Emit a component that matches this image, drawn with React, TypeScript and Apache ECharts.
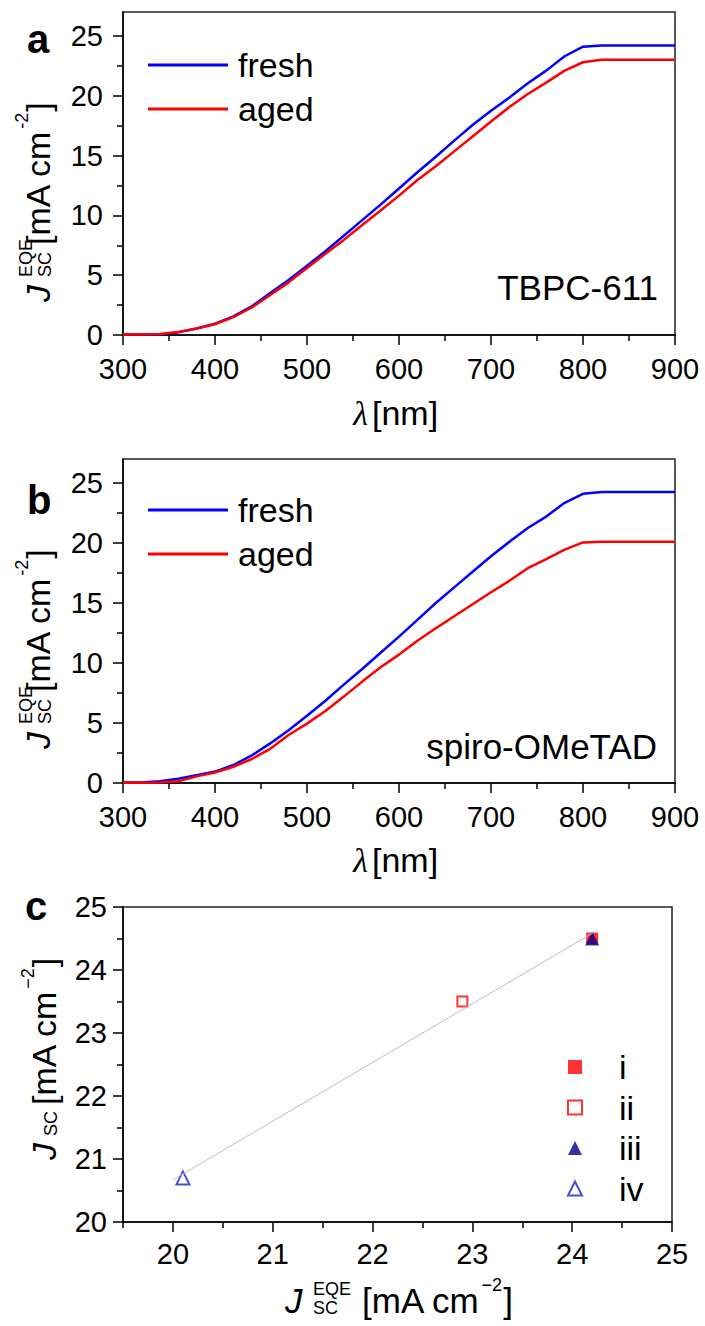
import React, { useEffect, useRef } from "react";
import * as echarts from "echarts";

// ---------------- data ----------------
const wavelengths = [300, 320, 340, 360, 380, 400, 420, 440, 460, 480, 500, 520, 540, 560, 580, 600, 620, 640, 660, 680, 700, 720, 740, 760, 780, 800, 820, 840, 860, 880, 900];
// panel a: TBPC-611
const freshA = [0.05, 0.05, 0.05, 0.22, 0.55, 0.95, 1.55, 2.4, 3.5, 4.6, 5.8, 7.0, 8.3, 9.6, 10.9, 12.25, 13.6, 14.9, 16.25, 17.55, 18.75, 19.85, 21.05, 22.1, 23.3, 24.1, 24.2, 24.2, 24.2, 24.2, 24.2];
const agedA = [0.05, 0.05, 0.08, 0.25, 0.55, 0.9, 1.5, 2.3, 3.35, 4.4, 5.6, 6.8, 7.95, 9.2, 10.4, 11.65, 12.95, 14.1, 15.35, 16.6, 17.85, 19.05, 20.15, 21.1, 22.1, 22.8, 23.0, 23.0, 23.0, 23.0, 23.0];
// panel b: spiro-OMeTAD
const freshB = [0.05, 0.05, 0.15, 0.35, 0.65, 0.95, 1.5, 2.3, 3.3, 4.4, 5.6, 6.85, 8.2, 9.5, 10.85, 12.2, 13.6, 15.0, 16.3, 17.6, 18.9, 20.1, 21.25, 22.2, 23.35, 24.1, 24.25, 24.25, 24.25, 24.25, 24.25];
const agedB = [0.03, 0.03, 0.05, 0.15, 0.55, 0.87, 1.35, 2.0, 2.85, 4.0, 4.95, 6.0, 7.2, 8.45, 9.65, 10.7, 11.85, 12.9, 13.9, 14.9, 15.9, 16.85, 17.9, 18.65, 19.45, 20.05, 20.1, 20.1, 20.1, 20.1, 20.1];
// panel c
const cNames = ["i", "ii", "iii", "iv"];
const cJeqe = [24.2, 22.9, 24.2, 20.1];
const cJsc = [24.5, 23.5, 24.5, 20.7];
const fitJeqe = [20.0, 24.22];
const fitJsc = [20.67, 24.6];

// ticks
const specTicks = [300, 400, 500, 600, 700, 800, 900];
const specMinorTicks = [350, 450, 550, 650, 750, 850];
const jTicks = [0, 5, 10, 15, 20, 25];
const jMinorTicks = [2.5, 7.5, 12.5, 17.5, 22.5];
const cXTicks = [20, 21, 22, 23, 24, 25];
const cXMinorTicks = [19.5, 20.5, 21.5, 22.5, 23.5, 24.5];
const cYTicks = [20, 21, 22, 23, 24, 25];
const cYMinorTicks = [20.5, 21.5, 22.5, 23.5, 24.5];

// ---------------- styling helpers ----------------
const SANS = '"Liberation Sans", Arial, Helvetica, sans-serif';
const SERIF = '"Liberation Serif", "DejaVu Serif", "Times New Roman", serif';
const AX = "#000";

let measureCtx: CanvasRenderingContext2D | null = null;
function measure(text: string, size: number, style = "normal", family = SANS) {
  if (!measureCtx) measureCtx = document.createElement("canvas").getContext("2d");
  if (!measureCtx) return text.length * size * 0.55;
  measureCtx.font = `${style} normal ${size}px ${family}`;
  return measureCtx.measureText(text).width;
}

function txt(text: string, x: number, y: number, size: number, opts: any = {}) {
  return {
    type: "text",
    x,
    y,
    style: {
      text,
      fill: "#000",
      fontSize: size,
      fontFamily: opts.family || SANS,
      fontStyle: opts.italic ? "italic" : "normal",
      fontWeight: opts.bold ? "bold" : "normal",
      align: opts.align || "left",
      verticalAlign: "middle",
      textAlign: opts.align || "left",
      textVerticalAlign: "middle",
    },
  };
}

// J_SC^EQE [mA cm-2]
function eqeLabel(x: number, y: number, rotation: number, jGap: number, bracketAt: number, size: number, minus: string) {
  const mainW = measure("[mA cm", size);
  const supW = measure(minus + "2", 18);
  return {
    type: "group",
    x,
    y,
    rotation,
    children: [
      txt("J", 0, -0.36 * size, size, { italic: true }),
      txt("EQE", jGap, -24, 18),
      txt("SC", jGap, -5, 18),
      txt("[mA cm", bracketAt, -0.36 * size, size),
      txt(minus + "2", bracketAt + mainW + 1, -28, 18),
      txt("]", bracketAt + mainW + supW + 2, -0.36 * size, size),
    ],
  };
}

// J_SC [mA cm-2]
function jscLabel(x: number, y: number, rotation: number, size: number) {
  const bracketAt = 55;
  const mainW = measure("[mA cm", size);
  const supW = measure("\u22122", 18);
  return {
    type: "group",
    x,
    y,
    rotation,
    children: [
      txt("J", 0, -0.36 * size, size, { italic: true }),
      txt("SC", 24, -5, 18),
      txt("[mA cm", bracketAt, -0.36 * size, size),
      txt("\u22122", bracketAt + mainW + 1, -28, 18),
      txt("]", bracketAt + mainW + supW + 2, -0.36 * size, size),
    ],
  };
}

function majorAxis(gridIndex: number, min: number, max: number, ticks: number[], position: string, margin: number) {
  return {
    type: "value",
    gridIndex,
    min,
    max,
    position,
    axisLine: { show: true, onZero: false, lineStyle: { color: AX, width: 1.5 } },
    axisTick: { show: true, inside: false, length: 10, customValues: ticks, lineStyle: { color: AX, width: 1.5 } },
    axisLabel: { show: true, customValues: ticks, margin, color: "#000", fontSize: 29, fontFamily: SANS },
    splitLine: { show: false },
    minorTick: { show: false },
  };
}

function minorAxis(gridIndex: number, min: number, max: number, ticks: number[], position: string) {
  return {
    type: "value",
    gridIndex,
    min,
    max,
    position,
    axisLine: { show: false, onZero: false },
    axisTick: { show: true, inside: false, length: 6, customValues: ticks, lineStyle: { color: AX, width: 1.5 } },
    axisLabel: { show: false },
    splitLine: { show: false },
  };
}

function lineSeries(name: string, color: string, vals: number[], axisIndex: number) {
  return {
    type: "line",
    name,
    xAxisIndex: axisIndex,
    yAxisIndex: axisIndex,
    data: wavelengths.map((w, i) => [w, vals[i]]),
    symbol: "none",
    showSymbol: false,
    itemStyle: { color },
    lineStyle: { color, width: 2.5 },
    silent: true,
  };
}

const gridBase = {
  show: true,
  borderColor: "#222",
  borderWidth: 1.5,
  backgroundColor: "transparent",
  containLabel: false,
  outerBoundsMode: "none",
};

const markerSymbols = ["rect", "emptyRect", "triangle", "emptyTriangle"];
const markerSizes = [12, 10, 14, 13];
const markerColors = ["#ff0000", "#ff0000", "#00008b", "#1f1fc8"];

function buildOption() {
  const legendText = { fontSize: 34, lineHeight: 40, color: "#000", fontFamily: SANS, padding: [0, 0, 0, 5] };
  return {
    animation: false,
    backgroundColor: "#fff",
    grid: [
      { ...gridBase, left: 123, top: 12, width: 552, height: 323 },
      { ...gridBase, left: 123, top: 459, width: 552, height: 324 },
      { ...gridBase, left: 123, top: 907, width: 549, height: 315 },
    ],
    xAxis: [
      majorAxis(0, 300, 900, specTicks, "bottom", 19),
      minorAxis(0, 300, 900, specMinorTicks, "bottom"),
      majorAxis(1, 300, 900, specTicks, "bottom", 19),
      minorAxis(1, 300, 900, specMinorTicks, "bottom"),
      majorAxis(2, 19.5, 25, cXTicks, "bottom", 17),
      minorAxis(2, 19.5, 25, cXMinorTicks, "bottom"),
    ],
    yAxis: [
      majorAxis(0, 0, 27, jTicks, "left", 20),
      minorAxis(0, 0, 27, jMinorTicks, "left"),
      majorAxis(1, 0, 27, jTicks, "left", 20),
      minorAxis(1, 0, 27, jMinorTicks, "left"),
      majorAxis(2, 20, 25, cYTicks, "left", 16),
      minorAxis(2, 20, 25, cYMinorTicks, "left"),
    ],
    legend: [
      {
        left: 143, top: 40, orient: "vertical", icon: "rect", itemWidth: 80, itemHeight: 3, itemGap: 4,
        selectedMode: false, data: ["fresh", "aged"], textStyle: legendText,
      },
      {
        left: 143, top: 485, orient: "vertical", icon: "rect", itemWidth: 80, itemHeight: 3, itemGap: 4,
        selectedMode: false, data: ["fresh", "aged"], textStyle: legendText,
      },
      {
        left: 562, top: 1044, orient: "vertical", itemWidth: 14, itemHeight: 14, itemGap: 4.5,
        selectedMode: false, data: cNames,
        textStyle: { fontSize: 34, lineHeight: 36, color: "#000", fontFamily: SANS, padding: [0, 0, 0, 32] },
      },
    ],
    series: [
      lineSeries("fresh", "#0000ff", freshA, 0),
      lineSeries("aged", "#ff0000", agedA, 0),
      lineSeries("fresh", "#0000ff", freshB, 2),
      lineSeries("aged", "#ff0000", agedB, 2),
      {
        type: "line",
        name: "fit",
        xAxisIndex: 4,
        yAxisIndex: 4,
        data: fitJeqe.map((v, i) => [v, fitJsc[i]]),
        symbol: "none",
        lineStyle: { color: "#bdbdbd", width: 1 },
        silent: true,
      },
      ...cNames.map((n, i) => ({
        type: "scatter",
        name: n,
        xAxisIndex: 4,
        yAxisIndex: 4,
        data: [[cJeqe[i], cJsc[i]]],
        symbol: markerSymbols[i],
        symbolSize: markerSizes[i],
        itemStyle: { color: markerColors[i] },
        silent: true,
      })),
    ],
    graphic: [
      txt("a", 27, 39, 40, { bold: true }),
      txt("b", 27, 500, 40, { bold: true }),
      txt("c", 25, 906, 40, { bold: true }),
      txt("TBPC-611", 658, 287, 35, { align: "right" }),
      txt("spiro-OMeTAD", 657, 746, 35, { align: "right" }),
      txt("\u03bb", 368, 413, 34, { italic: true, align: "right", family: SERIF }),
      txt("[nm]", 372, 413, 34),
      txt("\u03bb", 368, 860, 34, { italic: true, align: "right", family: SERIF }),
      txt("[nm]", 372, 860, 34),
      eqeLabel(50, 302, Math.PI / 2, 25, 57, 34, "-"),
      eqeLabel(50, 749, Math.PI / 2, 25, 57, 34, "-"),
      jscLabel(56, 1160, Math.PI / 2, 34),
      eqeLabel(285, 1313, 0, 28, 77, 35, "\u2212"),
    ],
  };
}

export default function App() {
  const ref = useRef<HTMLDivElement>(null);
  useEffect(() => {
    document.body.style.margin = "0";
    if (!ref.current) return;
    const chart = echarts.init(ref.current, null, { renderer: "svg" });
    chart.setOption(buildOption() as any);
    return () => chart.dispose();
  }, []);
  return <div ref={ref} style={{ width: 705, height: 1326 }} />;
}
